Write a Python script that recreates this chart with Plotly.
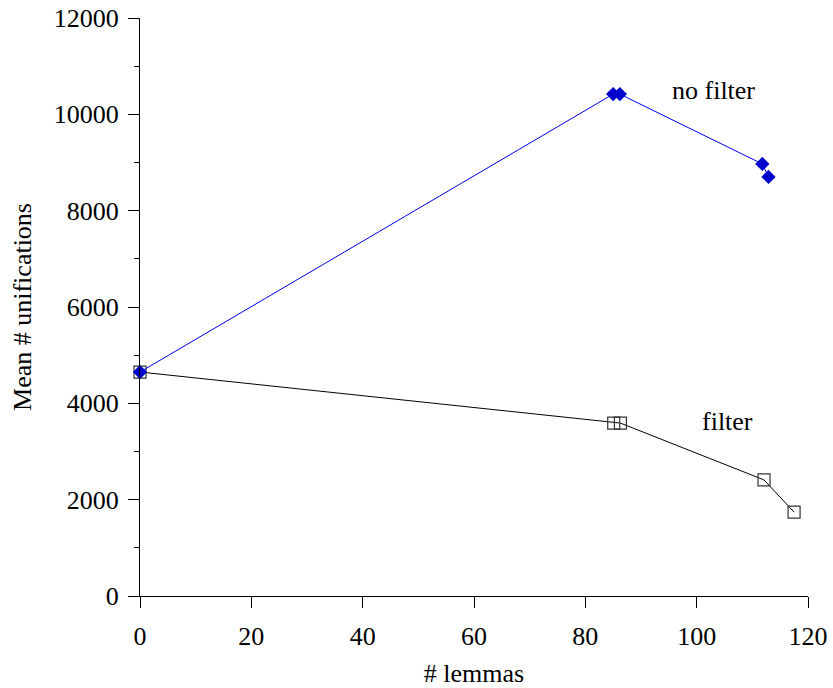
import plotly.graph_objects as go

# Data
nofilter_x = [0, 85.0, 86.2, 111.8, 112.9]
nofilter_y = [4650, 10420, 10420, 8970, 8700]
filter_x = [0, 85.1, 86.3, 112.1, 117.5]
filter_y = [4650, 3590, 3590, 2410, 1740]

x_ticks = [0, 20, 40, 60, 80, 100, 120]
y_ticks = [0, 2000, 4000, 6000, 8000, 10000, 12000]

font = "Liberation Serif"
fs = 26

fig = go.Figure()
fig.add_trace(go.Scatter(
    x=filter_x, y=filter_y, mode="lines+markers", name="filter",
    line=dict(color="black", width=1),
    marker=dict(symbol="square-open", size=12, color="#333333", line=dict(width=1.2)),
    cliponaxis=False,
))
fig.add_trace(go.Scatter(
    x=nofilter_x, y=nofilter_y, mode="lines+markers", name="no filter",
    line=dict(color="#0000ee", width=1),
    marker=dict(symbol="diamond", size=11, color="#0000cc"),
    cliponaxis=False,
))

fig.add_annotation(x=103.1, y=10500, text="no filter", showarrow=False,
                   font=dict(family=font, size=fs, color="black"))
fig.add_annotation(x=105.6, y=3620, text="filter", showarrow=False,
                   font=dict(family=font, size=fs, color="black"))

fig.update_layout(
    width=833, height=688,
    margin=dict(l=140, r=25, t=18, b=92),
    plot_bgcolor="white", paper_bgcolor="white",
    showlegend=False,
    font=dict(family=font, size=fs, color="black"),
)
fig.update_xaxes(
    range=[0, 120], tickvals=x_ticks, ticktext=[str(v) for v in x_ticks],
    showline=True, linecolor="black", linewidth=1,
    ticks="outside", ticklen=11, tickcolor="black",
    tickfont=dict(family=font, size=fs), ticklabelstandoff=6,
    showgrid=False, zeroline=False, automargin=False,
    title=dict(text="# lemmas", standoff=22, font=dict(family=font, size=fs)),
)
fig.update_yaxes(
    range=[0, 12000], tickvals=y_ticks, ticktext=[str(v) for v in y_ticks],
    showline=True, linecolor="black", linewidth=1,
    ticks="outside", ticklen=11, tickcolor="black",
    tickfont=dict(family=font, size=fs), ticklabelstandoff=4,
    minor=dict(tickvals=[1000, 3000, 5000, 7000, 9000, 11000], ticks="outside", ticklen=5, tickcolor="black", showgrid=False),
    showgrid=False, zeroline=False, automargin=False,
    title=dict(text="Mean # unifications", standoff=14, font=dict(family=font, size=fs)),
)

fig.write_html("out.html", config={"displayModeBar": False},
               post_script="document.body.style.margin='0';document.body.style.padding='0';")
